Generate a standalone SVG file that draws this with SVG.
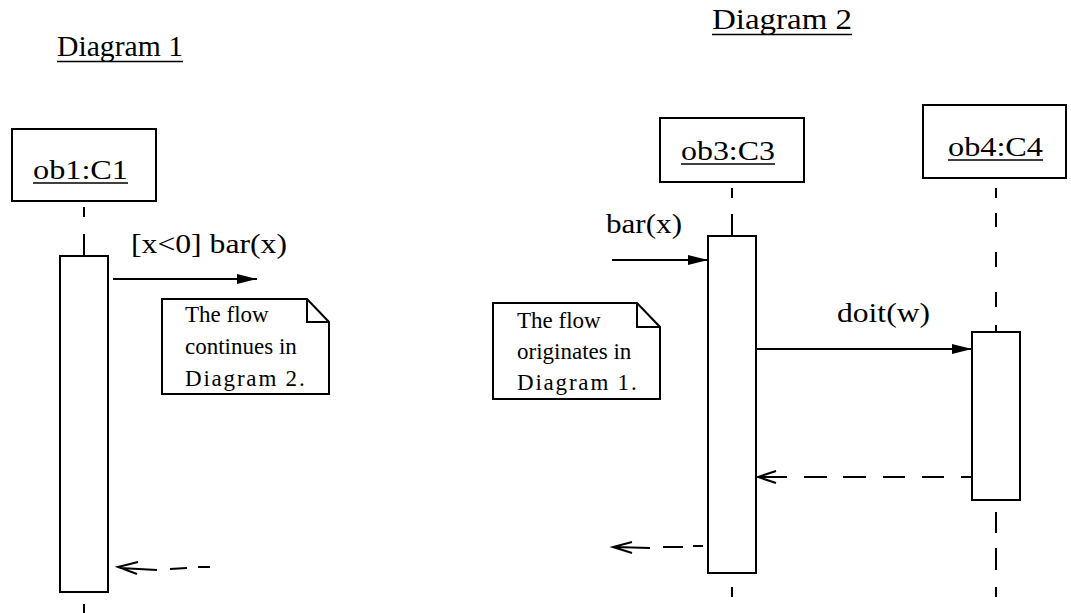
<svg xmlns="http://www.w3.org/2000/svg" width="1071" height="613" viewBox="0 0 1071 613">
<style>
text{font-family:"Liberation Serif","Times New Roman",serif;fill:#000}
.lbl{font-size:28px}
.head{font-size:30px}
.note{font-size:23px}
.box{fill:#fff;stroke:#000;stroke-width:2}
.ln{fill:none;stroke:#000;stroke-width:2}
.ul{stroke:#000;stroke-width:1.6}
</style>
<defs>
<marker id="filled" markerWidth="20" markerHeight="12" refX="20" refY="6" orient="auto" markerUnits="userSpaceOnUse">
<path d="M0,1 L20,6 L0,11 Z" fill="#000"/>
</marker>
</defs>
<rect width="1071" height="613" fill="#fff"/>

<g id="titles">
<text class="head" x="57" y="56" textLength="126" lengthAdjust="spacingAndGlyphs">Diagram 1</text>
<line class="ul" x1="57" y1="61.5" x2="183" y2="61.5"/>
<text class="head" x="712" y="29" textLength="140" lengthAdjust="spacingAndGlyphs">Diagram 2</text>
<line class="ul" x1="712" y1="34.5" x2="852" y2="34.5"/>
</g>

<g id="lifelines" class="ln">
<path d="M84,207 V217 M84,234 V256 M84,604 V613"/>
<path d="M732,188 V198 M732,214 V236 M732,587 V597"/>
<path d="M996,188 V198 M996,213 V227 M996,252 V267 M996,292 V307 M996,325 V332 M996,512 V533 M996,548 V570 M996,587 V597"/>
</g>

<g id="ob1">
<rect class="box" x="12" y="129" width="144" height="72"/>
<text class="lbl" x="33" y="179" textLength="95" lengthAdjust="spacingAndGlyphs">ob1:C1</text>
<line class="ul" x1="33" y1="183" x2="128" y2="183"/>
<rect class="box" x="60" y="256" width="48" height="336"/>
</g>

<g id="ob3">
<rect class="box" x="660" y="118" width="144" height="64"/>
<text class="lbl" x="681" y="160" textLength="94" lengthAdjust="spacingAndGlyphs">ob3:C3</text>
<line class="ul" x1="681" y1="164" x2="775" y2="164"/>
<rect class="box" x="708" y="236" width="48" height="337"/>
</g>

<g id="ob4">
<rect class="box" x="923" y="105" width="143" height="73"/>
<text class="lbl" x="948" y="156" textLength="95" lengthAdjust="spacingAndGlyphs">ob4:C4</text>
<line class="ul" x1="948" y1="160" x2="1043" y2="160"/>
<rect class="box" x="972" y="332" width="48" height="168"/>
</g>

<g id="note1">
<path class="box" d="M162,299 H307 L329,322 V394 H162 Z"/>
<path class="ln" d="M307,299 V322 H329"/>
<text class="note" x="185" y="322">The flow</text>
<text class="note" x="185" y="354">continues in</text>
<text class="note" x="185" y="386" font-size="21" letter-spacing="1.8">Diagram 2.</text>
</g>

<g id="note2">
<path class="box" d="M493,303 H637 L660,327 V399 H493 Z"/>
<path class="ln" d="M637,303 V327 H660"/>
<text class="note" x="517" y="328">The flow</text>
<text class="note" x="517" y="359">originates in</text>
<text class="note" x="517" y="390" font-size="21" letter-spacing="1.8">Diagram 1.</text>
</g>

<g id="connectors">
<line class="ln" x1="113" y1="279" x2="257" y2="279" marker-end="url(#filled)"/>
<text class="lbl" x="131" y="253" textLength="156" lengthAdjust="spacingAndGlyphs">[x&lt;0] bar(x)</text>

<path class="ln" d="M138,562 L118,567 L137,574 M120,568 L157,570 M170,569 L187,568 M198,567 L210,567" stroke-width="1.8"/>

<line class="ln" x1="612" y1="260" x2="708" y2="260" marker-end="url(#filled)"/>
<text class="lbl" x="606" y="233" textLength="76" lengthAdjust="spacingAndGlyphs">bar(x)</text>

<line class="ln" x1="756" y1="349" x2="972" y2="349" marker-end="url(#filled)"/>
<text class="lbl" x="837" y="322" textLength="93" lengthAdjust="spacingAndGlyphs">doit(w)</text>

<path class="ln" d="M776,471 L758,477 L776,483 M758,477 H787 M804,477 H827 M843,477 H866 M883,477 H905 M922,477 H944 M961,477 H972"/>

<path class="ln" d="M632,542 L613,547 L632,553 M615,547 L650,548 M663,547 L683,547 M693,546 L703,546" stroke-width="1.8"/>
</g>
</svg>
